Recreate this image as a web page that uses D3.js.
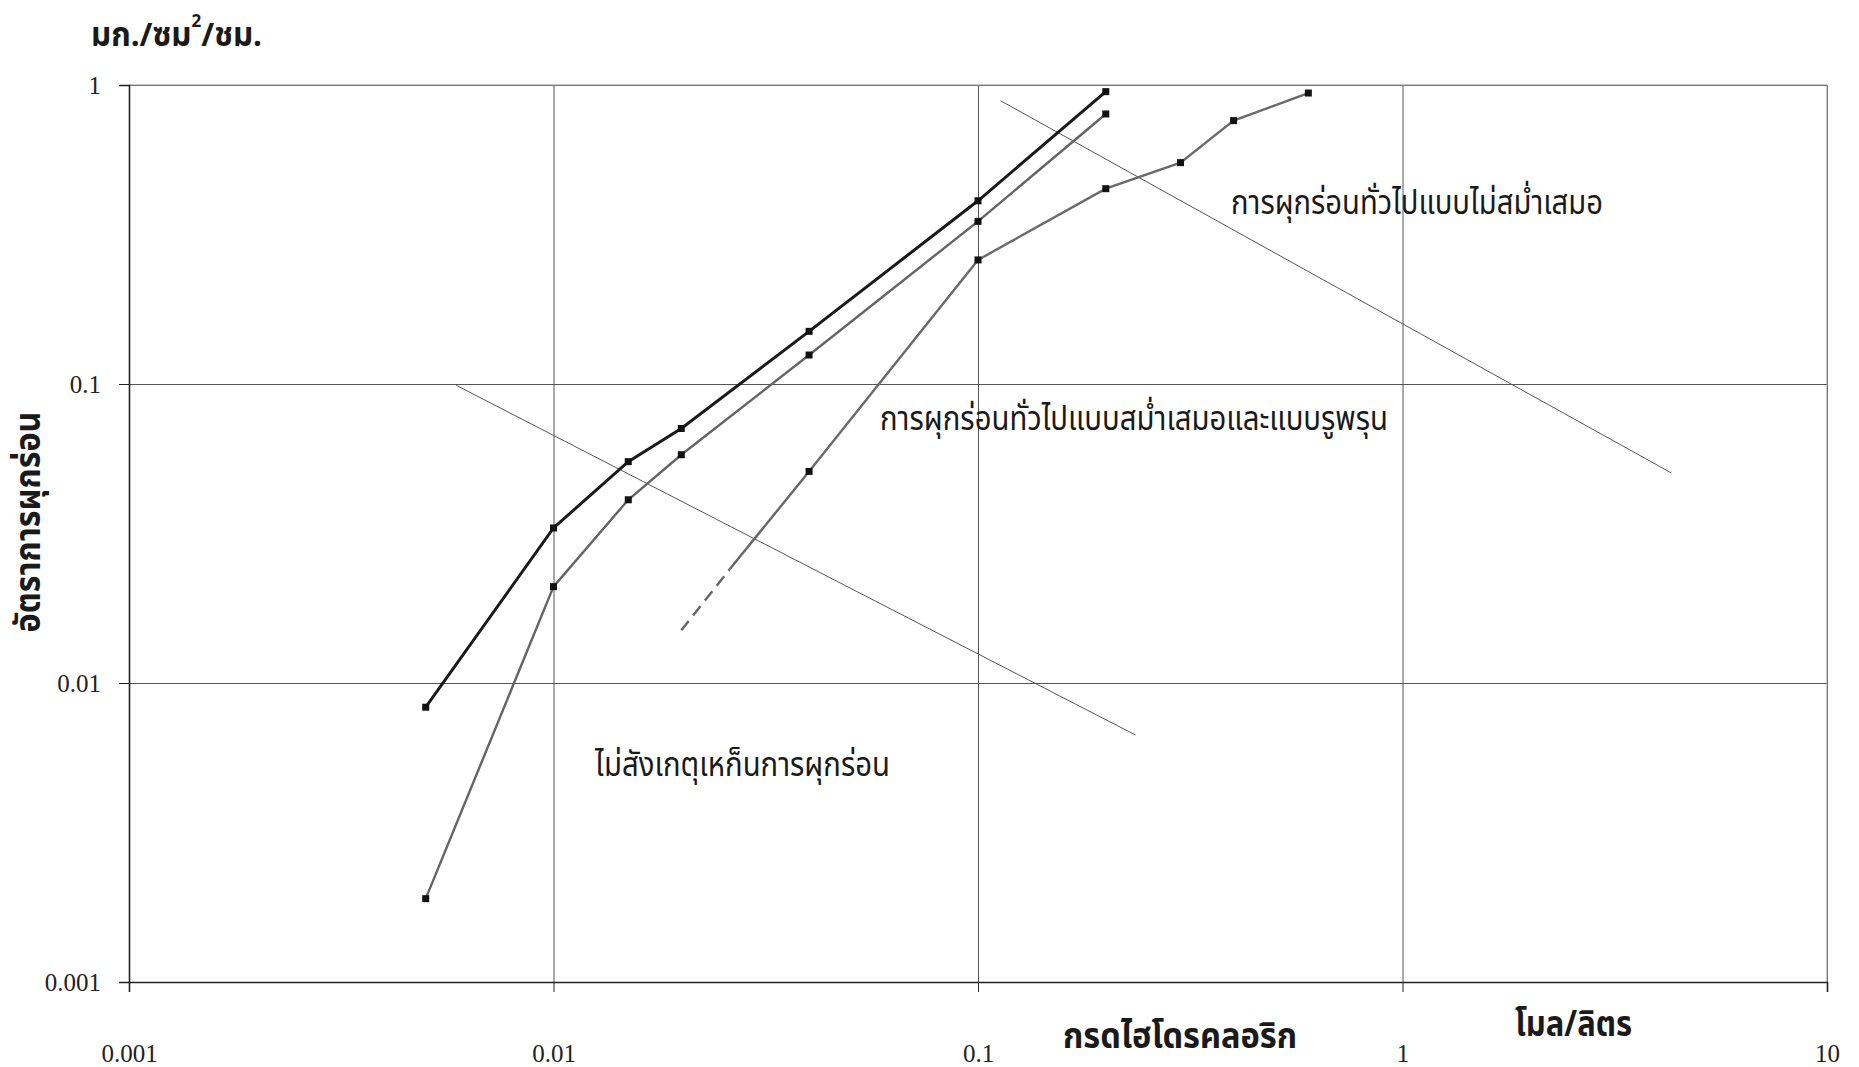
<!DOCTYPE html>
<html>
<head>
<meta charset="utf-8">
<script src="https://cdn.jsdelivr.net/npm/d3@7"></script>
<style>
  body { margin: 0; background: #fff; }
  svg { display: block; }
  .tick-lbl { font-family: 'Liberation Serif', 'Times New Roman', serif; font-size: 25px; fill: #222; }
  .thai { font-family: 'Noto Sans Thai', 'Noto Sans', 'DejaVu Sans', sans-serif; fill: #1a1a1a; }
</style>
</head>
<body>
<svg id="chart" width="1859" height="1067"></svg>
<script>
// ความเข้มข้นกรด (โมล/ลิตร)
const concAB = [0.005, 0.01, 0.015, 0.02, 0.04, 0.1, 0.2];
const rateA = [0.0083, 0.033, 0.055, 0.071, 0.15, 0.41, 0.95];
const rateB = [0.0019, 0.021, 0.041, 0.058, 0.125, 0.35, 0.80];
const concC = [0.04, 0.1, 0.2, 0.3, 0.4, 0.6];
const rateC = [0.051, 0.26, 0.45, 0.55, 0.76, 0.94];
// ส่วนต่อของเส้น C (ไม่มีจุด) และส่วนเส้นประ
const concCext = [0.026, 0.04];
const rateCext = [0.024, 0.051];
const concCdash = [0.02, 0.026];
const rateCdash = [0.015, 0.024];
// เส้นแบ่งบริเวณ
const bound1X = [0.0059, 0.235];
const bound1Y = [0.099, 0.0067];
const bound2X = [0.113, 4.3];
const bound2Y = [0.886, 0.0504];

const xTicks = [0.001, 0.01, 0.1, 1, 10];
const yTicks = [0.001, 0.01, 0.1, 1];

const svg = d3.select('#chart');
const marginLeft = 129, marginTop = 85;
const width = 1698, height = 897;

const x = d3.scaleLog().domain([0.001, 10]).range([0, width]);
const y = d3.scaleLog().domain([0.001, 1]).range([height, 0]);

const chart = svg.append('g').attr('transform', `translate(${marginLeft}, ${marginTop})`);

// grid
chart.append('g')
  .call(d3.axisLeft(y).tickValues(yTicks).tickSize(-width).tickFormat(''))
  .call(g => g.select('.domain').remove())
  .call(g => g.selectAll('line').attr('stroke', '#555').attr('stroke-width', 1));
chart.append('g')
  .attr('transform', `translate(0, ${height})`)
  .call(d3.axisBottom(x).tickValues(xTicks).tickSize(-height).tickFormat(''))
  .call(g => g.select('.domain').remove())
  .call(g => g.selectAll('line').attr('stroke', '#555').attr('stroke-width', 1));

// top/right border (light)
chart.append('line').attr('x1', 0).attr('x2', width).attr('y1', 0).attr('y2', 0)
  .attr('stroke', '#999').attr('stroke-width', 1);
chart.append('line').attr('x1', width).attr('x2', width).attr('y1', 0).attr('y2', height)
  .attr('stroke', '#999').attr('stroke-width', 1);

// axes
const yAxis = chart.append('g')
  .call(d3.axisLeft(y).tickValues(yTicks).tickSize(10).tickPadding(18).tickFormat(d3.format('')));
yAxis.select('.domain').attr('stroke', '#222').attr('stroke-width', 1.6);
yAxis.selectAll('line').attr('stroke', '#222');
yAxis.selectAll('text').attr('class', 'tick-lbl').attr('dy', '0.35em');

const xAxis = chart.append('g')
  .attr('transform', `translate(0, ${height})`)
  .call(d3.axisBottom(x).tickValues(xTicks).tickSize(10).tickPadding(52).tickFormat(d3.format('')));
xAxis.select('.domain').attr('stroke', '#222').attr('stroke-width', 1.6);
xAxis.selectAll('line').attr('stroke', '#222');
xAxis.selectAll('text').attr('class', 'tick-lbl');

const line = d3.line().x(d => x(d[0])).y(d => y(d[1]));
const pairs = (xs, ys) => xs.map((v, i) => [v, ys[i]]);

// boundary lines
[[bound1X, bound1Y], [bound2X, bound2Y]].forEach(([bx, by]) => {
  chart.append('path').datum(pairs(bx, by))
    .attr('d', line).attr('fill', 'none')
    .attr('stroke', '#555').attr('stroke-width', 1);
});

// series C
chart.append('path').datum(pairs(concCdash, rateCdash))
  .attr('d', line).attr('fill', 'none')
  .attr('stroke', '#666').attr('stroke-width', 2.4).attr('stroke-dasharray', '12,7');
chart.append('path').datum(pairs(concCext, rateCext))
  .attr('d', line).attr('fill', 'none')
  .attr('stroke', '#666').attr('stroke-width', 2.4);

const series = [
  { xs: concC, ys: rateC, color: '#6a6a6a', w: 2.4 },
  { xs: concAB, ys: rateB, color: '#646464', w: 2.4 },
  { xs: concAB, ys: rateA, color: '#1a1a1a', w: 3 }
];

series.forEach(s => {
  const pts = pairs(s.xs, s.ys);
  chart.append('path').datum(pts)
    .attr('d', line).attr('fill', 'none')
    .attr('stroke', s.color).attr('stroke-width', s.w);
  chart.selectAll(null)
    .data(pts)
    .enter()
    .append('rect')
    .attr('x', d => x(d[0]) - 3.5)
    .attr('y', d => y(d[1]) - 3.5)
    .attr('width', 7)
    .attr('height', 7)
    .attr('fill', '#111');
});

// labels inside plot
const labels = [
  { t: 'การผุกร่อนทั่วไปแบบไม่สม่ำเสมอ', x: 1231, y: 214, w: 372 },
  { t: 'การผุกร่อนทั่วไปแบบสม่ำเสมอและแบบรูพรุน', x: 880, y: 430, w: 508 },
  { t: 'ไม่สังเกตุเหก็นการผุกร่อน', x: 595, y: 776, w: 295 }
];
svg.selectAll('.plot-lbl')
  .data(labels)
  .enter()
  .append('text')
  .attr('class', 'thai plot-lbl')
  .attr('x', d => d.x)
  .attr('y', d => d.y)
  .attr('font-size', 33)
  .attr('textLength', d => d.w)
  .attr('lengthAdjust', 'spacingAndGlyphs')
  .text(d => d.t);

// unit title top-left
const unit = svg.append('text')
  .attr('class', 'thai')
  .attr('x', 91)
  .attr('y', 46)
  .attr('font-size', 33)
  .attr('font-weight', 'bold')
  .attr('textLength', 171)
  .attr('lengthAdjust', 'spacingAndGlyphs');
unit.append('tspan').text('มก./ซม');
unit.append('tspan').attr('dy', -19).attr('font-size', 18).text('2');
unit.append('tspan').attr('dy', 19).text('/ชม.');

// y title
svg.append('text')
  .attr('class', 'thai')
  .attr('transform', 'translate(40, 522) rotate(-90)')
  .attr('text-anchor', 'middle')
  .attr('font-size', 35)
  .attr('font-weight', 'bold')
  .attr('textLength', 221)
  .attr('lengthAdjust', 'spacingAndGlyphs')
  .text('อัตราการผุกร่อน');

// x titles
svg.append('text')
  .attr('class', 'thai')
  .attr('x', 1063)
  .attr('y', 1048)
  .attr('font-size', 35)
  .attr('font-weight', 'bold')
  .attr('textLength', 234)
  .attr('lengthAdjust', 'spacingAndGlyphs')
  .text('กรดไฮโดรคลอริก');

svg.append('text')
  .attr('class', 'thai')
  .attr('x', 1515)
  .attr('y', 1036)
  .attr('font-size', 35)
  .attr('font-weight', 'bold')
  .attr('textLength', 117)
  .attr('lengthAdjust', 'spacingAndGlyphs')
  .text('โมล/ลิตร');
</script>
</body>
</html>
